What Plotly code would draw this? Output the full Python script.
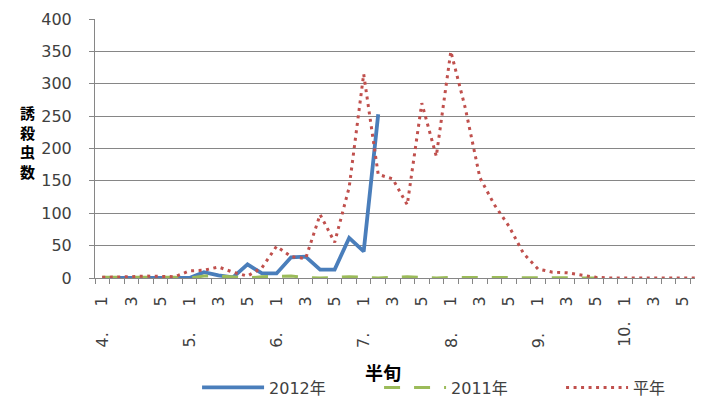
import plotly.graph_objects as go

# ---------------- data ----------------
months = [4, 5, 6, 7, 8, 9, 10]
halves = [1, 2, 3, 4, 5, 6]
categories = [f"{m}月{h}" for m in months for h in halves]
half_labels = [str(h) if h % 2 == 1 else "" for m in months for h in halves]
month_labels = [f"{m}." for m in months]
month_first = [f"{m}月1" for m in months]

y2012 = [0, 0, 0, 0, 0, 0,
         0, 9, 4, 1, 21, 7,
         7, 32, 33, 13, 13, 62,
         41, 253] + [None] * 22

y2011 = [1, 1, 2, 2, 1, 1,
         0, 3, 3, 1, 0, 2,
         2, 3, 1, 0, 1, 2,
         1, 0, 1, 2, 1, 0,
         1, 1, 0, 0, 1, 1,
         0, 0, 0, 0, 0, 0] + [None] * 6

y_avg = [1, 1, 2, 3, 2, 2,
         11, 12, 17, 9, 3, 16,
         49, 33, 30, 98, 55, 140,
         315, 160, 153, 113, 270, 188,
         350, 262, 155, 113, 80, 38,
         14, 9, 8, 4, 1, 0,
         0, 0, 0, 0, 0, 0]

series_names = ["2012年", "2011年", "平年"]
y_ticks = [0, 50, 100, 150, 200, 250, 300, 350, 400]
y_title = "誘<br>殺<br>虫<br>数"

FONT = "DejaVu Sans, Noto Sans CJK JP, sans-serif"
CJK = "Noto Sans CJK JP, sans-serif"
GRID = "#868686"

# the page body has an 8px margin, so figure pixels = page pixels - 8
OFF = 8
W, H = 703, 401
PX0, PX1 = 95, 704.6      # plot area left/right in page pixels
PY0, PY1 = 19, 278.3      # plot area top/bottom in page pixels
ML = PX0 - OFF
MR = W - (PX1 - OFF)
MT = PY0 - OFF
MB = H - (PY1 - OFF)
PW = PX1 - PX0
PH = PY1 - PY0
Y0 = PY1

fig = go.Figure()
fig.add_trace(go.Scatter(x=categories, y=y2012, name=series_names[0], mode="lines",
                         line=dict(color="#4A7EBB", width=3.8), connectgaps=False))
fig.add_trace(go.Scatter(x=categories, y=y2011, name=series_names[1], mode="lines",
                         line=dict(color="#9BBB59", width=3, dash="16px,14px")))
fig.add_trace(go.Scatter(x=categories, y=y_avg, name=series_names[2], mode="lines",
                         line=dict(color="#C0504D", width=3, dash="3px,4.5px")))

annotations = []
for m_lab, cat in zip(month_labels, month_first):
    centre = 348 - 7.5 - 5.5 * (len(m_lab) - 2)
    annotations.append(dict(x=cat, y=0, xref="x", yref="paper", text=m_lab,
                            showarrow=False, textangle=-90, xanchor="center",
                            yanchor="middle", yshift=-(centre - Y0),
                            font=dict(family=FONT, size=16, color="#404040")))
# x title
annotations.append(dict(x=(382.5 - PX0) / PW, y=0, xref="paper", yref="paper",
                        text="<b>半旬</b>", showarrow=False, xanchor="center",
                        yanchor="middle", yshift=-(372.5 - Y0),
                        font=dict(family=CJK, size=18, color="#000000")))
# y title (stacked characters)
annotations.append(dict(x=(27.5 - PX0) / PW, y=(Y0 - 142) / PH,
                        xref="paper", yref="paper", text=f"<b>{y_title}</b>",
                        showarrow=False, xanchor="center", yanchor="middle",
                        font=dict(family=CJK, size=15, color="#000000")))

fig.update_layout(
    width=W, height=H,
    margin=dict(l=ML, r=MR, t=MT, b=MB, autoexpand=False),
    paper_bgcolor="white", plot_bgcolor="white",
    font=dict(family=FONT, size=16, color="#404040"),
    showlegend=True,
    legend=dict(orientation="h", x=(197 - PX0) / PW, xanchor="left",
                y=(Y0 - 388) / PH, yanchor="middle",
                itemwidth=62, entrywidth=105, entrywidthmode="pixels",
                font=dict(family=FONT, size=16, color="#404040"),
                bgcolor="rgba(0,0,0,0)"),
    annotations=annotations,
)
fig.update_xaxes(type="category", categoryorder="array", categoryarray=categories,
                 range=[-0.5, 41.5], tickmode="array", tickvals=categories,
                 ticktext=half_labels, tickangle=-90, tickson="boundaries",
                 ticks="outside", ticklen=5, tickcolor=GRID, showline=True,
                 linecolor=GRID, linewidth=1, showgrid=False, zeroline=False,
                 ticklabelstandoff=11, automargin=False,
                 tickfont=dict(family=FONT, size=16, color="#404040"))
fig.update_yaxes(range=[0, 400], tickmode="array", tickvals=y_ticks,
                 ticks="outside", ticklen=5, tickcolor=GRID, showline=True,
                 linecolor=GRID, linewidth=1, showgrid=True, gridcolor=GRID,
                 gridwidth=1, zeroline=False, ticklabelstandoff=14, automargin=False,
                 tickfont=dict(family=FONT, size=16, color="#404040"))

fig.write_html("out.html")
